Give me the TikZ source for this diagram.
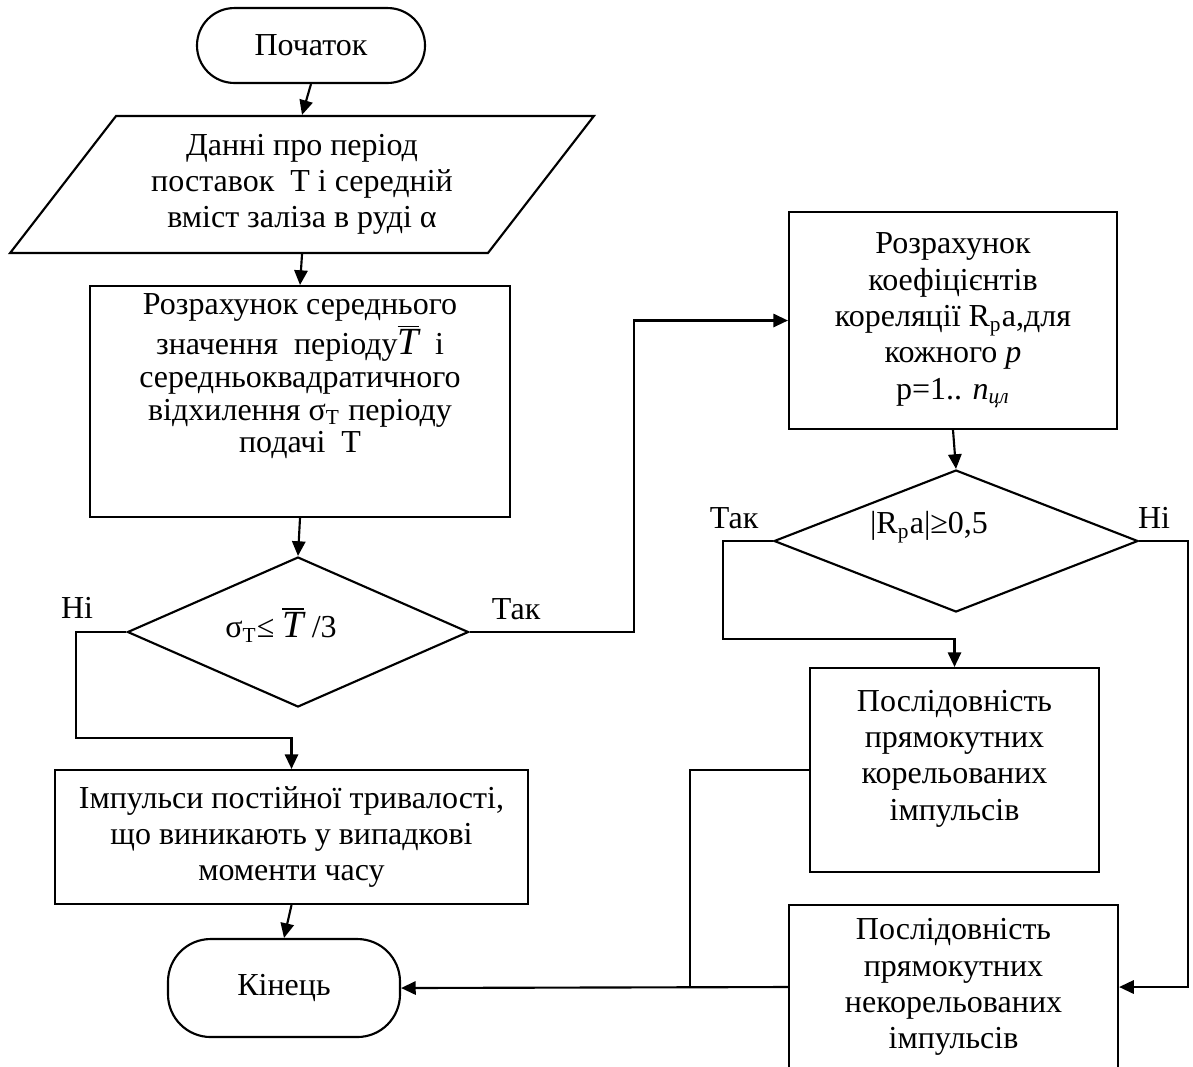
\documentclass[tikz,border=0pt]{standalone}
\usepackage{fontspec}
\setmainfont{Liberation Serif}
\usetikzlibrary{shapes.geometric,arrows.meta}

\begin{document}
\begin{tikzpicture}[x=0.375pt,y=-0.375pt]
\tikzstyle{every node}+=[inner sep=0pt,font=\fontsize{12}{13.6}\selectfont]
\tikzstyle{term}=[draw,line width=0.8pt,rounded corners=14pt,align=center]
\tikzstyle{io}=[draw,line width=0.8pt,trapezium,trapezium left angle=49.5,trapezium right angle=130.5,trapezium stretches,align=center]
\tikzstyle{proc}=[draw,line width=0.8pt,align=center]
\tikzstyle{cond}=[draw,line width=0.8pt,diamond]
\tikzstyle{arr}=[line width=0.8pt,-{Triangle[length=5.5pt,width=5pt]}]
\useasboundingbox (0,0) rectangle (1193,1066);
\clip (0,0) rectangle (1193,1066);
\node [term,minimum width=85.5pt,minimum height=28.1pt] (start) at (311,45.5) {Початок};
\node [io,minimum width=219pt,minimum height=51.4pt] (data) at (302,184.5) {Данні про період\\поставок~ T і середній\\вміст заліза в руді α};
\node [proc,font=\fontsize{12}{12.2}\selectfont,minimum width=157.5pt,minimum height=86.6pt] (calc) at (300,401.5) {Розрахунок середнього\\значення~ періоду{\Large$\overline{\textit{T}}$}~ і\\середньоквадратичного\\відхилення σ\textsubscript{T} періоду\\подачі~ T\\[9pt]\mbox{}};
\node [cond,minimum width=127.9pt,minimum height=56.25pt] (dec1) at (298,632) {};
\node (cond1) at (281,625) {σ\textsubscript{T}≤ {\Large$\overline{\textit{T}}$} /3};
\node [proc,minimum width=177.4pt,minimum height=50.25pt] (imp) at (291.5,837) {Імпульси постійної тривалості,\\що виникають у випадкові\\моменти часу};
\node [term,rounded corners=16pt,minimum width=87pt,minimum height=36.75pt] (end) at (284,988) {Кінець};
\node [proc,minimum width=123pt,minimum height=81.4pt] (coef) at (953,320.5) {Розрахунок\\коефіцієнтів\\кореляції R\textsubscript{p}a,для\\кожного \textit{p}\\p=1.. \textit{n}\textsubscript{\textit{цл}}};
\node [cond,minimum width=136.5pt,minimum height=53.25pt] (dec2) at (956,541) {};
\node (cond2) at (929,527) {|R\textsubscript{p}a|≥0,5};
\node [proc,minimum width=108.4pt,minimum height=76.5pt] (corr) at (954.5,770) {Послідовність\\прямокутних\\корельованих\\імпульсів\\[-2.4pt]\mbox{}};
\node [proc,minimum width=123.4pt,minimum height=61.5pt] (unc) at (953.5,987) {Послідовність\\прямокутних\\некорельованих\\імпульсів};
\node (no1) at (77,608) {Ні};
\node (yes1) at (516,609) {Так};
\node (yes2) at (734,518) {Так};
\node (no2) at (1154,518) {Ні};
\coordinate (join) at (690,987);
\draw [arr] (start.south) -- (data.north);
\draw [arr] (data.south) -- (calc.north);
\draw [arr] (calc.south) -- (dec1.north);
\draw [arr] (dec1.west) -- ++(-50,0) -- ++(0,106) -| (imp.north);
\draw [arr] (dec1.east) -- ++(164,0) |- (coef.west);
\draw [arr] (imp.south) -- (end.north);
\draw [arr] (coef.south) -- (dec2.north);
\draw [arr] (dec2.west) -- ++(-50,0) -- ++(0,98) -| (corr.north);
\draw [arr] (dec2.east) -- ++(49,0) |- (unc.east);
\draw [arr] (unc.west) -- (end.east);
\draw [thin] (corr.west) -| (join);
\end{tikzpicture}
\end{document}
